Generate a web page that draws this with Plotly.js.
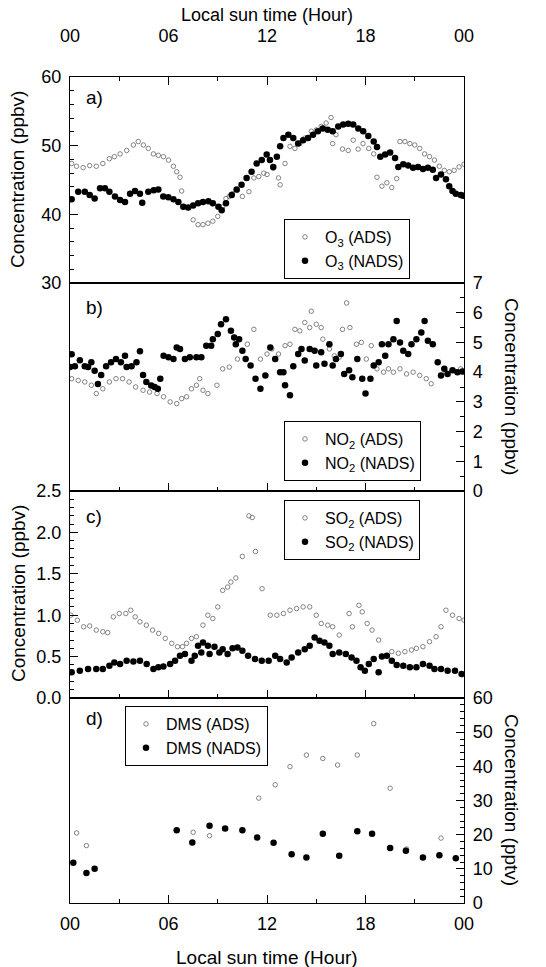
<!DOCTYPE html>
<html><head><meta charset="utf-8">
<script src="https://cdn.plot.ly/plotly-3.0.1.min.js"></script>
<style>html,body{margin:0;padding:0;background:#fff}#chart{width:546px;height:967px}</style>
</head><body><div id="chart"></div>
<script>
// ---- tick labels ----
const hourTickVals=[0,6,12,18,24];
const hourTickText=["00","06","12","18","00"];
const hourMinorVals=[3,9,15,21];

// ---- a) O3 ----
const o3NadsHour=[0.1,0.5,0.9,1.2,1.5,1.83,2.13,2.4,2.74,3.05,3.35,3.66,3.96,4.26,4.4,4.77,5.1,5.38,5.68,5.99,6.3,6.6,6.9,7.2,7.5,7.8,8.1,8.43,8.7,9.04,9.24,9.5,9.85,10.15,10.45,10.76,11.06,11.37,11.68,11.98,12.18,12.38,12.6,12.8,13.0,13.3,13.6,13.9,14.2,14.5,14.8,15.1,15.4,15.7,16.0,16.34,16.64,16.95,17.25,17.56,17.86,18.17,18.5,18.7,18.9,19.2,19.5,19.8,20.0,20.3,20.6,20.9,21.2,21.5,21.8,22.1,22.3,22.6,22.9,23.1,23.3,23.5,23.8,23.95];
const o3NadsVal=[42.2,43.3,43.3,42.8,42.3,43.8,43.8,43.3,42.6,42.1,41.8,43.0,43.4,43.0,41.7,43.3,43.5,43.6,42.6,42.5,42.2,41.8,41.1,41.0,41.3,41.6,41.8,41.9,41.6,41.1,40.6,41.6,42.8,43.6,44.3,45.3,46.2,47.4,47.9,48.7,47.9,46.9,48.4,49.9,51.1,51.6,51.1,50.3,50.8,51.1,51.6,52.1,52.5,52.3,52.1,52.8,53.1,53.2,53.1,52.5,52.1,51.4,50.6,49.8,48.4,48.7,49.0,48.2,46.9,47.3,47.1,46.8,46.9,46.6,46.8,46.5,45.3,45.8,45.1,44.1,43.4,43.0,42.8,42.7];
const o3AdsHour=[0.1,0.4,0.8,1.2,1.6,2.0,2.4,2.7,3.05,3.45,3.86,4.16,4.47,4.77,5.08,5.38,5.69,6.0,6.3,6.5,6.7,6.8,7.5,7.8,8.1,8.4,8.7,9.0,9.3,9.5,9.7,9.9,10.2,10.5,10.9,11.2,11.5,11.8,12.0,12.38,12.7,12.8,13.1,13.4,13.7,14.0,14.3,14.7,15.0,15.3,15.6,15.9,16.0,16.2,16.6,16.95,17.25,17.55,17.85,18.2,18.5,18.7,19.0,19.3,19.6,19.9,20.1,20.4,20.7,21.0,21.3,21.6,21.9,22.2,22.5,22.8,23.1,23.4,23.7,24.0];
const o3AdsVal=[47.4,47.0,46.8,47.1,47.0,47.4,48.1,48.4,48.8,49.3,50.1,50.6,50.1,49.6,48.8,48.6,48.4,47.9,47.0,46.2,45.4,43.4,39.2,38.5,38.5,38.7,39.0,39.7,41.1,42.3,42.6,43.0,43.5,42.6,43.3,45.3,45.5,46.0,45.8,46.7,45.3,44.3,47.4,49.9,49.6,50.3,51.1,52.1,52.3,52.8,53.3,54.1,50.3,51.6,49.5,49.3,50.8,49.5,50.3,49.6,48.8,45.4,44.1,44.6,43.9,45.2,50.6,50.6,50.3,50.1,49.6,48.8,48.4,47.9,47.0,46.4,46.2,46.4,46.9,47.3];

// ---- b) NO2 ----
const no2NadsHour=[0.0,0.1,0.3,0.6,0.9,1.1,1.3,1.5,1.7,1.9,2.2,2.5,2.8,3.1,3.35,3.45,3.75,4.05,4.26,4.45,4.65,4.95,5.15,5.35,5.5,5.7,6.0,6.3,6.5,6.7,7.0,7.3,7.7,8.0,8.3,8.6,8.7,9.0,9.2,9.5,9.8,10.0,10.1,10.3,10.5,10.7,11.0,11.3,11.6,11.9,12.2,12.5,12.8,13.0,13.1,13.4,13.6,13.9,14.1,14.3,14.6,14.9,15.0,15.3,15.5,15.8,16.0,16.2,16.5,16.7,17.0,17.2,17.5,17.8,18.0,18.3,18.5,18.8,19.0,19.2,19.4,19.7,19.9,20.1,20.3,20.6,20.8,21.1,21.4,21.6,21.8,22.1,22.4,22.6,22.8,23.0,23.3,23.6,23.9];
const no2NadsVal=[4.17,4.6,4.2,4.4,4.2,4.17,4.33,4.05,3.6,3.9,4.2,4.33,4.44,4.33,4.55,4.17,4.2,4.33,4.7,3.9,3.67,3.55,3.5,3.44,3.78,4.55,4.5,4.44,4.83,4.78,4.44,4.5,4.5,4.5,4.89,4.89,5.11,5.28,5.61,5.78,5.39,5.17,4.94,5.11,4.72,4.44,4.22,3.78,3.44,3.89,4.83,4.44,4.0,4.0,3.56,3.22,4.2,4.61,4.78,4.39,4.78,4.72,4.22,4.67,4.28,4.94,4.22,4.44,4.61,3.94,4.06,3.83,4.44,3.78,3.28,3.78,4.22,4.33,4.94,4.55,4.94,5.11,5.72,5.0,4.72,4.61,4.94,5.11,5.33,5.72,5.06,4.94,4.33,3.89,4.11,3.94,4.06,4.0,4.02];
const no2AdsHour=[0.1,0.5,0.9,1.3,1.6,2.0,2.4,2.8,3.2,3.6,4.0,4.45,4.85,5.3,5.7,6.1,6.5,6.8,7.1,7.4,7.7,7.9,8.1,8.4,8.95,9.3,9.7,10.2,10.8,11.2,11.6,12.0,12.3,12.7,13.1,13.4,13.7,14.0,14.3,14.6,14.7,15.0,15.3,15.4,15.8,16.1,16.4,16.6,16.85,17.05,17.45,17.75,18.05,18.35,18.7,19.1,19.4,19.7,20.1,20.5,20.9,21.3,21.7,22.0,22.9,23.3,23.8];
const no2AdsVal=[3.78,3.72,3.67,3.56,3.28,3.44,3.67,3.78,3.78,3.67,3.5,3.39,3.33,3.28,3.17,3.0,2.94,3.11,3.17,3.44,3.56,3.78,3.39,3.28,3.56,4.11,4.17,4.44,4.94,5.44,4.44,4.61,4.78,4.61,4.89,4.94,5.44,5.39,5.67,5.5,6.05,5.61,5.5,5.11,4.78,4.55,4.5,5.44,6.33,5.5,4.94,5.0,4.44,4.89,4.11,4.0,4.11,4.0,4.11,3.94,4.0,3.89,3.78,3.61,4.0,4.06,4.11];

// ---- c) SO2 ----
const so2NadsHour=[0.1,0.6,1.1,1.6,2.0,2.4,2.7,3.05,3.45,3.86,4.26,4.67,5.08,5.38,5.69,6.1,6.4,6.7,7.0,7.4,7.6,7.8,8.0,8.1,8.4,8.5,8.8,9.1,9.3,9.6,9.9,10.2,10.5,10.85,11.27,11.68,12.1,12.5,12.8,13.2,13.5,13.9,14.3,14.6,14.9,15.2,15.5,15.8,16.0,16.4,16.8,17.15,17.45,17.7,17.96,18.2,18.5,18.8,19.0,19.3,19.6,19.9,20.3,20.7,21.1,21.5,21.9,22.2,22.6,23.0,23.45,23.85];
const so2NadsVal=[0.31,0.33,0.35,0.35,0.35,0.39,0.43,0.41,0.45,0.44,0.45,0.41,0.35,0.37,0.38,0.41,0.45,0.51,0.53,0.45,0.51,0.63,0.55,0.67,0.63,0.53,0.62,0.55,0.59,0.53,0.60,0.61,0.57,0.51,0.47,0.45,0.45,0.51,0.47,0.43,0.49,0.55,0.59,0.63,0.73,0.69,0.67,0.63,0.53,0.55,0.53,0.49,0.45,0.37,0.33,0.41,0.47,0.31,0.50,0.51,0.45,0.40,0.39,0.37,0.37,0.41,0.39,0.35,0.35,0.33,0.33,0.29];
const so2AdsHour=[0.05,0.45,0.83,1.2,1.6,2.0,2.3,2.64,3.0,3.4,3.7,3.97,4.26,4.65,5.03,5.4,5.8,6.2,6.55,6.85,7.1,7.4,7.7,8.1,8.4,8.7,9.0,9.3,9.6,9.8,10.1,10.5,10.9,11.1,11.3,11.7,12.2,12.6,13.0,13.4,13.8,14.2,14.6,15.0,15.3,15.7,16.0,16.4,17.0,17.2,17.6,17.8,18.1,18.4,18.8,19.6,20.0,20.4,20.8,21.1,21.5,21.9,22.3,22.6,22.9,23.3,23.7,24.0];
const so2AdsVal=[1.0,0.94,0.86,0.87,0.82,0.80,0.79,0.98,1.02,1.02,1.06,0.98,0.92,0.88,0.82,0.78,0.72,0.66,0.62,0.62,0.66,0.72,0.74,0.88,1.0,0.96,1.1,1.3,1.34,1.40,1.45,1.71,2.2,2.18,1.77,1.32,1.0,1.0,1.02,1.06,1.08,1.1,1.1,1.0,0.9,0.88,0.86,0.76,1.02,0.86,1.12,1.04,0.9,0.82,0.70,0.56,0.54,0.56,0.58,0.60,0.62,0.68,0.74,0.86,1.06,1.0,0.96,0.94];

// ---- d) DMS ----
const dmsNadsHour=[0.2,1.0,1.5,6.5,7.45,8.5,9.45,10.5,11.4,12.4,13.5,14.4,15.4,16.4,17.5,18.4,19.5,20.46,21.5,22.5,23.5];
const dmsNadsVal=[11.8,8.8,10.0,21.3,17.7,22.6,21.8,21.3,19.2,17.6,14.3,13.3,20.3,13.8,21.0,20.3,16.1,15.3,13.3,14.0,13.1];
const dmsAdsHour=[0.4,1.0,7.5,8.5,11.5,12.5,13.4,14.4,15.4,16.3,17.5,18.5,19.5,20.5,22.6];
const dmsAdsVal=[20.5,16.8,20.7,19.7,30.7,34.6,39.9,43.3,42.3,40.4,43.3,52.5,33.6,15.8,19.0];

const FONT='"Liberation Sans", Arial, Helvetica, sans-serif';
const adsMarker={symbol:'circle-open',size:4.5,color:'#666',line:{width:0.8,color:'#666'}};
const nadsMarker={symbol:'circle',size:6.5,color:'#000'};

function tr(x,y,name,mk,xa,ya,lg){
  return {type:'scatter',mode:'markers',x:x,y:y,name:name,marker:mk,xaxis:xa,yaxis:ya,legend:lg,hoverinfo:'skip'};
}
const data=[
  tr(o3AdsHour,o3AdsVal,'O<sub>3</sub> (ADS)',adsMarker,'x','y','legend'),
  tr(o3NadsHour,o3NadsVal,'O<sub>3</sub> (NADS)',nadsMarker,'x','y','legend'),
  tr(no2AdsHour,no2AdsVal,'NO<sub>2</sub> (ADS)',adsMarker,'x2','y2','legend2'),
  tr(no2NadsHour,no2NadsVal,'NO<sub>2</sub> (NADS)',nadsMarker,'x2','y2','legend2'),
  tr(so2AdsHour,so2AdsVal,'SO<sub>2</sub> (ADS)',adsMarker,'x3','y3','legend3'),
  tr(so2NadsHour,so2NadsVal,'SO<sub>2</sub> (NADS)',nadsMarker,'x3','y3','legend3'),
  tr(dmsAdsHour,dmsAdsVal,'DMS (ADS)',adsMarker,'x4','y4','legend4'),
  tr(dmsNadsHour,dmsNadsVal,'DMS (NADS)',nadsMarker,'x4','y4','legend4')
];

const PH=826, PL=70, PW=394;
function py(p){return (903-p)/PH;}
function px(p){return (p-PL)/PW;}

function xax(anchor,opts){
  return Object.assign({range:[0,24],anchor:anchor,tickmode:'array',tickvals:hourTickVals,ticktext:hourTickText,
    ticks:'inside',ticklen:8,tickwidth:1,tickcolor:'#000',
    minor:{tickvals:hourMinorVals,ticks:'inside',ticklen:4,tickcolor:'#000'},
    showline:true,linecolor:'#000',linewidth:1.2,mirror:true,showgrid:false,zeroline:false,
    showticklabels:false,tickfont:{size:18,color:'#000'}},opts);
}
function yax(domain,range,dtick,mdtick,side,fmt,anchor){
  return {domain:domain,range:range,dtick:dtick,tick0:0,side:side,anchor:anchor,
    ticks:'inside',ticklen:8,tickcolor:'#000',
    minor:{dtick:mdtick,ticks:'inside',ticklen:4,tickcolor:'#000'},
    showline:true,linecolor:'#000',linewidth:1.2,mirror:true,showgrid:false,zeroline:false,
    tickformat:fmt,tickfont:{size:18,color:'#000'},ticklabelstandoff:4};
}
function leg(x,y){
  return {x:x,y:y,xanchor:'left',yanchor:'top',bordercolor:'#000',borderwidth:1,bgcolor:'#fff',
    font:{size:16,family:FONT,color:'#000'},itemwidth:30,tracegroupgap:0};
}
function ann(text,x,y,angle,size,xanchor){
  return {text:text,x:x,y:y,xref:'paper',yref:'paper',showarrow:false,textangle:angle||0,
    font:{size:size,family:FONT,color:'#000'},xanchor:xanchor||'center',yanchor:'middle'};
}

const layout={
  width:546,height:967,margin:{l:70,r:82,t:77,b:64},paper_bgcolor:'#fff',plot_bgcolor:'#fff',
  font:{family:FONT,color:'#000'},showlegend:true,
  xaxis:xax('y',{side:'top',showticklabels:true,ticklabelstandoff:27}),
  xaxis2:xax('y2',{matches:'x'}),
  xaxis3:xax('y3',{matches:'x'}),
  xaxis4:xax('y4',{matches:'x',showticklabels:true,ticklabelstandoff:4}),
  yaxis:yax([py(283),1],[30,60],10,2,'left','d','x'),
  yaxis2:yax([py(491),py(283)],[0,7],1,0.5,'right','d','x2'),
  yaxis3:yax([py(698),py(491)],[0,2.5],0.5,0.1,'left','.1f','x3'),
  yaxis4:yax([0,py(698)],[0,60],10,2,'right','d','x4'),
  legend:leg(px(284),py(219)),
  legend2:leg(px(284),py(421)),
  legend3:leg(px(284),py(500)),
  legend4:leg(px(125),py(706)),
  annotations:[
    ann('Local sun time (Hour)',0.5,py(15),0,18),
    ann('Local sun time (Hour)',0.5,py(958),0,19),
    ann('Concentration (ppbv)',px(18),py(180),-90,19),
    ann('Concentration (ppbv)',px(18),py(594),-90,19),
    ann('Concentration (ppbv)',px(512),py(387),90,19),
    ann('Concentration (pptv)',px(512),py(800),90,19),
    ann('a)',px(84),py(97),0,19,'left'),
    ann('b)',px(84),py(307),0,19,'left'),
    ann('c)',px(84),py(516),0,19,'left'),
    ann('d)',px(84),py(718),0,19,'left')
  ]
};
Plotly.newPlot('chart',data,layout,{staticPlot:true,displayModeBar:false});
</script>
</body></html>
